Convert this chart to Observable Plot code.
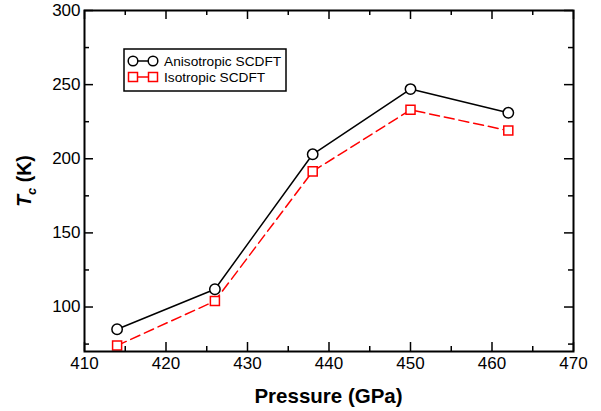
<!DOCTYPE html>
<html><head><meta charset="utf-8">
<script src="https://cdn.jsdelivr.net/npm/d3@7"></script>
<script src="https://cdn.jsdelivr.net/npm/@observablehq/plot@0.6"></script>
<style>body{margin:0;background:#fff;font-family:"Liberation Sans",Arial,sans-serif}</style>
</head><body><div id="chart"></div>
<script>
const pressure = [414, 426, 438, 450, 462];
const anisotropic = [85, 112, 203, 247, 231];
const isotropic = [74, 104, 191.5, 233, 219];
const seriesNames = ["Anisotropic SCDFT", "Isotropic SCDFT"];
const xMajor = [410, 420, 430, 440, 450, 460, 470];
const xMinor = [415, 425, 435, 445, 455, 465];
const yMajor = [100, 150, 200, 250, 300];
const yMinor = [75, 125, 175, 225, 275];

const W = 601, H = 411;
const mL = 84, mR = 28, mT = 10, mB = 60;
const pw = W - mL - mR, ph = H - mT - mB;

const aniData = pressure.map((p, i) => ({p, v: anisotropic[i]}));
const isoData = pressure.map((p, i) => ({p, v: isotropic[i]}));

const tickX = (vals, len, side) => Plot.tickX(vals, {x: d => d, stroke: "#000", strokeWidth: 1.5,
  ...(side === "bottom" ? {insetTop: ph - len} : {insetBottom: ph - len})});
const tickY = (vals, len, side) => Plot.tickY(vals, {y: d => d, stroke: "#000", strokeWidth: 1.5,
  ...(side === "left" ? {insetRight: pw - len} : {insetLeft: pw - len})});

const chart = Plot.plot({
  width: W, height: H,
  marginLeft: mL, marginRight: mR, marginTop: mT, marginBottom: mB,
  style: {fontFamily: "'Liberation Sans', Arial, sans-serif", fontSize: "17px", color: "#000", background: "#fff"},
  x: {domain: [410, 470]},
  y: {domain: [70, 300]},
  marks: [
    Plot.axisX(xMajor, {tickSize: 0, tickPadding: 5, fontSize: 17, label: null}),
    Plot.axisY(yMajor, {tickSize: 0, tickPadding: 4, fontSize: 17, label: null}),
    tickX(xMajor, 9, "bottom"), tickX(xMinor, 5, "bottom"),
    tickX(xMajor, 9, "top"), tickX(xMinor, 5, "top"),
    tickY(yMajor, 9, "left"), tickY(yMinor, 5, "left"),
    tickY(yMajor, 9, "right"), tickY(yMinor, 5, "right"),
    Plot.line(isoData, {x: "p", y: "v", stroke: "#ff0000", strokeWidth: 1.5, strokeDasharray: "10,5"}),
    Plot.line(aniData, {x: "p", y: "v", stroke: "#000", strokeWidth: 1.5}),
    Plot.dot(isoData, {x: "p", y: "v", symbol: "square", r: 5.1, stroke: "#ff0000", strokeWidth: 1.5, fill: "#fff"}),
    Plot.dot(aniData, {x: "p", y: "v", symbol: "circle", r: 5.2, stroke: "#000", strokeWidth: 1.5, fill: "#fff"}),
    Plot.frame({stroke: "#000", strokeWidth: 2})
  ]
});
document.getElementById("chart").appendChild(chart);

const svg = d3.select(chart);
// x label
svg.append("text").attr("x", mL + pw / 2).attr("y", 403).attr("text-anchor", "middle")
  .attr("font-size", 20.5).attr("font-weight", "bold").attr("fill", "#000").text("Pressure (GPa)");
// y label
const yl = svg.append("text").attr("transform", "translate(31,181) rotate(-90)").attr("text-anchor", "middle")
  .attr("font-size", 19.5).attr("font-weight", "bold").attr("fill", "#000");
yl.append("tspan").attr("font-style", "italic").text("T");
yl.append("tspan").attr("font-style", "italic").attr("font-size", 13).attr("dy", 5).text("c");
yl.append("tspan").attr("dy", -5).text(" (K)");

// legend
const lg = svg.append("g");
lg.append("rect").attr("x", 124).attr("y", 49).attr("width", 162).attr("height", 42)
  .attr("fill", "#fff").attr("stroke", "#000").attr("stroke-width", 1.5);
const rows = [
  {name: seriesNames[0], color: "#000", shape: "circle", y: 61},
  {name: seriesNames[1], color: "#ff0000", shape: "square", y: 77}
];
rows.forEach(r => {
  lg.append("line").attr("x1", 133).attr("x2", 153).attr("y1", r.y).attr("y2", r.y)
    .attr("stroke", r.color).attr("stroke-width", 1.5);
  [133, 153].forEach(cx => {
    if (r.shape === "circle") {
      lg.append("circle").attr("cx", cx).attr("cy", r.y).attr("r", 4.8)
        .attr("fill", "#fff").attr("stroke", r.color).attr("stroke-width", 1.5);
    } else {
      lg.append("rect").attr("x", cx - 4.5).attr("y", r.y - 4.5).attr("width", 9).attr("height", 9)
        .attr("fill", "#fff").attr("stroke", r.color).attr("stroke-width", 1.5);
    }
  });
  lg.append("text").attr("x", 164).attr("y", r.y + 4.5).attr("text-anchor", "start")
    .attr("font-size", 13.7).attr("fill", "#000").text(r.name);
});
</script></body></html>
